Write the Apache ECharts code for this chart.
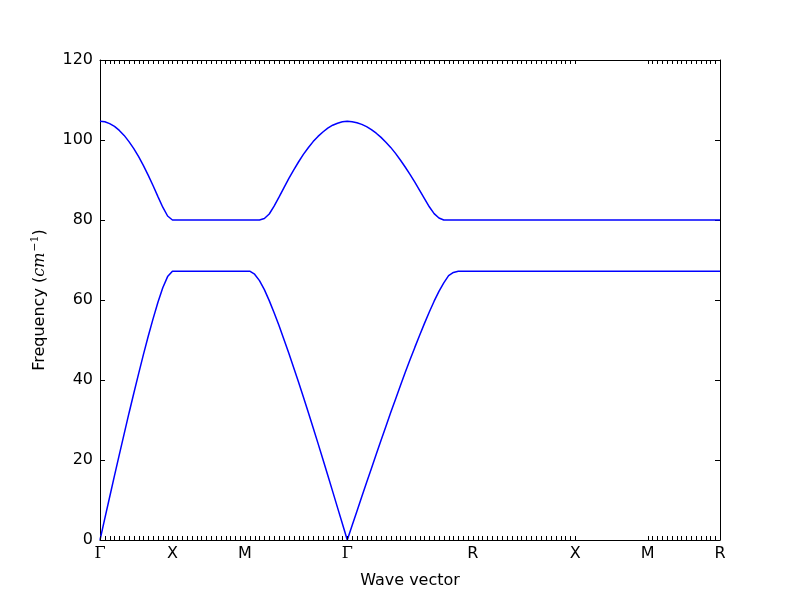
<!DOCTYPE html>
<html><head><meta charset="utf-8">
<script src="https://cdn.jsdelivr.net/npm/echarts@6/dist/echarts.min.js"></script>
<style>html,body{margin:0;padding:0;background:#fff}#c{width:800px;height:600px}</style>
</head><body><div id="c"></div>
<script>
// High-symmetry points along the path
const kLabels = ['Γ', 'X', 'M', 'Γ', 'R', 'X', 'M', 'R'];
const kPositions = [0, 0.5, 1.0, 1.7071, 2.5731, 3.2802, 3.7802, 4.2802];

// Upper (optical) branch, one array per path segment (end points included)
const upperGX = [104.7, 104.55, 104.1, 103.4, 102.4, 101.15, 99.6, 97.85, 95.85, 93.6, 91.15, 88.55, 85.85, 83.2, 81.0, 80.0];
const upperXM = [80, 80, 80, 80, 80, 80, 80, 80, 80, 80, 80, 80, 80, 80, 80, 80];
const upperMG = [80, 80, 80, 80, 80.37, 81.5, 83.45, 85.7, 88.05, 90.35, 92.45, 94.5, 96.4, 98.05, 99.6, 100.9, 102.0, 102.95, 103.7, 104.2, 104.55, 104.7];
const upperGR = [104.7, 104.55, 104.3, 103.9, 103.35, 102.6, 101.7, 100.65, 99.45, 98.15, 96.65, 95.0, 93.25, 91.4, 89.45, 87.4, 85.35, 83.3, 81.6, 80.5, 80, 80, 80, 80, 80, 80, 80];
const upperRX = [80, 80, 80, 80, 80, 80, 80, 80, 80, 80, 80, 80, 80, 80, 80, 80, 80, 80, 80, 80, 80, 80];
const upperXM2 = [80, 80];
const upperMR = [80, 80, 80, 80, 80, 80, 80, 80, 80, 80, 80, 80, 80, 80, 80, 80];

// Lower (acoustic) branch
const lowerGX = [0, 5.4, 10.75, 16.1, 21.35, 26.55, 31.7, 36.7, 41.6, 46.4, 51.0, 55.35, 59.45, 63.05, 65.85, 67.2];
const lowerXM = [67.2, 67.2, 67.2, 67.2, 67.2, 67.2, 67.2, 67.2, 67.2, 67.2, 67.2, 67.2, 67.2, 67.2, 67.2, 67.2];
const lowerMG = [67.2, 67.2, 66.45, 64.85, 62.6, 59.85, 56.8, 53.6, 50.2, 46.75, 43.15, 39.5, 35.75, 31.95, 28.05, 24.15, 20.2, 16.2, 12.15, 8.1, 4.05, 0];
const lowerGR = [0, 3.6, 7.2, 10.8, 14.35, 17.9, 21.45, 24.95, 28.4, 31.85, 35.2, 38.55, 41.85, 45.05, 48.15, 51.2, 54.15, 57.0, 59.7, 62.15, 64.3, 66.1, 66.9, 67.2, 67.2, 67.2, 67.2];
const lowerRX = [67.2, 67.2, 67.2, 67.2, 67.2, 67.2, 67.2, 67.2, 67.2, 67.2, 67.2, 67.2, 67.2, 67.2, 67.2, 67.2, 67.2, 67.2, 67.2, 67.2, 67.2, 67.2];
const lowerXM2 = [67.2, 67.2];
const lowerMR = [67.2, 67.2, 67.2, 67.2, 67.2, 67.2, 67.2, 67.2, 67.2, 67.2, 67.2, 67.2, 67.2, 67.2, 67.2, 67.2];

const yMin = 0, yMax = 120, yStep = 20;

const upperSegs = [upperGX, upperXM, upperMG, upperGR, upperRX, upperXM2, upperMR];
const lowerSegs = [lowerGX, lowerXM, lowerMG, lowerGR, lowerRX, lowerXM2, lowerMR];

function segX(s, i, n) {
  return kPositions[s] + i * (kPositions[s + 1] - kPositions[s]) / (n - 1);
}
function build(segs) {
  const out = [];
  segs.forEach((arr, s) => arr.forEach((v, i) => out.push([segX(s, i, arr.length), v])));
  return out;
}
// one tick per computed q-point (top and bottom frame)
const qTicks = [];
upperSegs.forEach((arr, s) => arr.forEach((v, i) => {
  const x = segX(s, i, arr.length);
  if (!qTicks.some(t => Math.abs(t - x) < 1e-9)) qTicks.push(x);
}));

const FONT = 'DejaVu Sans';
function kLabel(v) {
  let best = 0;
  kPositions.forEach((p, i) => { if (Math.abs(p - v) < Math.abs(kPositions[best] - v)) best = i; });
  const t = kLabels[best];
  return t === 'Γ' ? '{g|Γ}' : t;
}
const xMax = kPositions[kPositions.length - 1];
const lineBlack = { show: true, onZero: false, lineStyle: { color: '#000', width: 1 } };

function tickRender(params, api) {
  const x = api.value(0);
  const pb = api.coord([x, yMin]);
  const pt = api.coord([x, yMax]);
  const px = Math.round(pb[0]) + 0.5;
  const yb = Math.round(pb[1]), yt = Math.round(pt[1]);
  return {
    type: 'group',
    children: [
      { type: 'line', shape: { x1: px, y1: yb, x2: px, y2: yb - 4 }, style: { stroke: '#000', lineWidth: 1 } },
      { type: 'line', shape: { x1: px, y1: yt, x2: px, y2: yt + 4 }, style: { stroke: '#000', lineWidth: 1 } }
    ]
  };
}

const chart = echarts.init(document.getElementById('c'), null, { renderer: 'canvas' });
chart.setOption({
  animation: false,
  backgroundColor: '#fff',
  grid: { left: 100, right: 80, top: 60, bottom: 60 },
  xAxis: [{
    type: 'value', min: 0, max: xMax, position: 'bottom',
    axisLine: lineBlack,
    axisTick: { show: false },
    axisLabel: {
      customValues: kPositions, formatter: kLabel, color: '#000', fontSize: 16, fontFamily: FONT, margin: 6,
      rich: { g: { fontFamily: 'DejaVu Serif', fontSize: 16, color: '#000' } }
    },
    splitLine: { show: false },
    name: 'Wave vector', nameLocation: 'middle', nameGap: 33,
    nameTextStyle: { color: '#000', fontSize: 16, fontFamily: FONT }
  }, {
    type: 'value', min: 0, max: xMax, position: 'top',
    axisLine: lineBlack,
    axisTick: { show: false },
    axisLabel: { show: false }, splitLine: { show: false }
  }],
  yAxis: [{
    type: 'value', min: yMin, max: yMax, interval: yStep, position: 'left',
    axisLine: lineBlack,
    axisTick: { show: true, inside: true, length: 5, lineStyle: { color: '#000' } },
    axisLabel: { color: '#000', fontSize: 16, fontFamily: FONT, margin: 7 },
    splitLine: { show: false },
    name: '{a|Frequency (}{i|cm}{s|−1}{a|)}', nameLocation: 'middle', nameGap: 50,
    nameTextStyle: {
      color: '#000', fontSize: 16, fontFamily: FONT,
      rich: {
        a: { fontSize: 16, fontFamily: FONT, color: '#000', lineHeight: 20 },
        i: { fontSize: 16, fontFamily: 'DejaVu Serif', fontStyle: 'italic', color: '#000', lineHeight: 20 },
        s: { fontSize: 11, fontFamily: 'DejaVu Serif', color: '#000', lineHeight: 20, verticalAlign: 'top', padding: [0, 0, 8, 1] }
      }
    }
  }, {
    type: 'value', min: yMin, max: yMax, interval: yStep, position: 'right',
    axisLine: lineBlack,
    axisTick: { show: true, inside: true, length: 5, lineStyle: { color: '#000' } },
    axisLabel: { show: false }, splitLine: { show: false }
  }],
  series: [
    { type: 'line', data: build(upperSegs), showSymbol: false, lineStyle: { color: '#0000ff', width: 1.5 }, clip: false },
    { type: 'line', data: build(lowerSegs), showSymbol: false, lineStyle: { color: '#0000ff', width: 1.5 }, clip: false },
    { type: 'custom', data: qTicks.map(x => [x]), encode: { x: 0 }, renderItem: tickRender, silent: true, clip: false, z: 5 }
  ]
});
</script></body></html>
